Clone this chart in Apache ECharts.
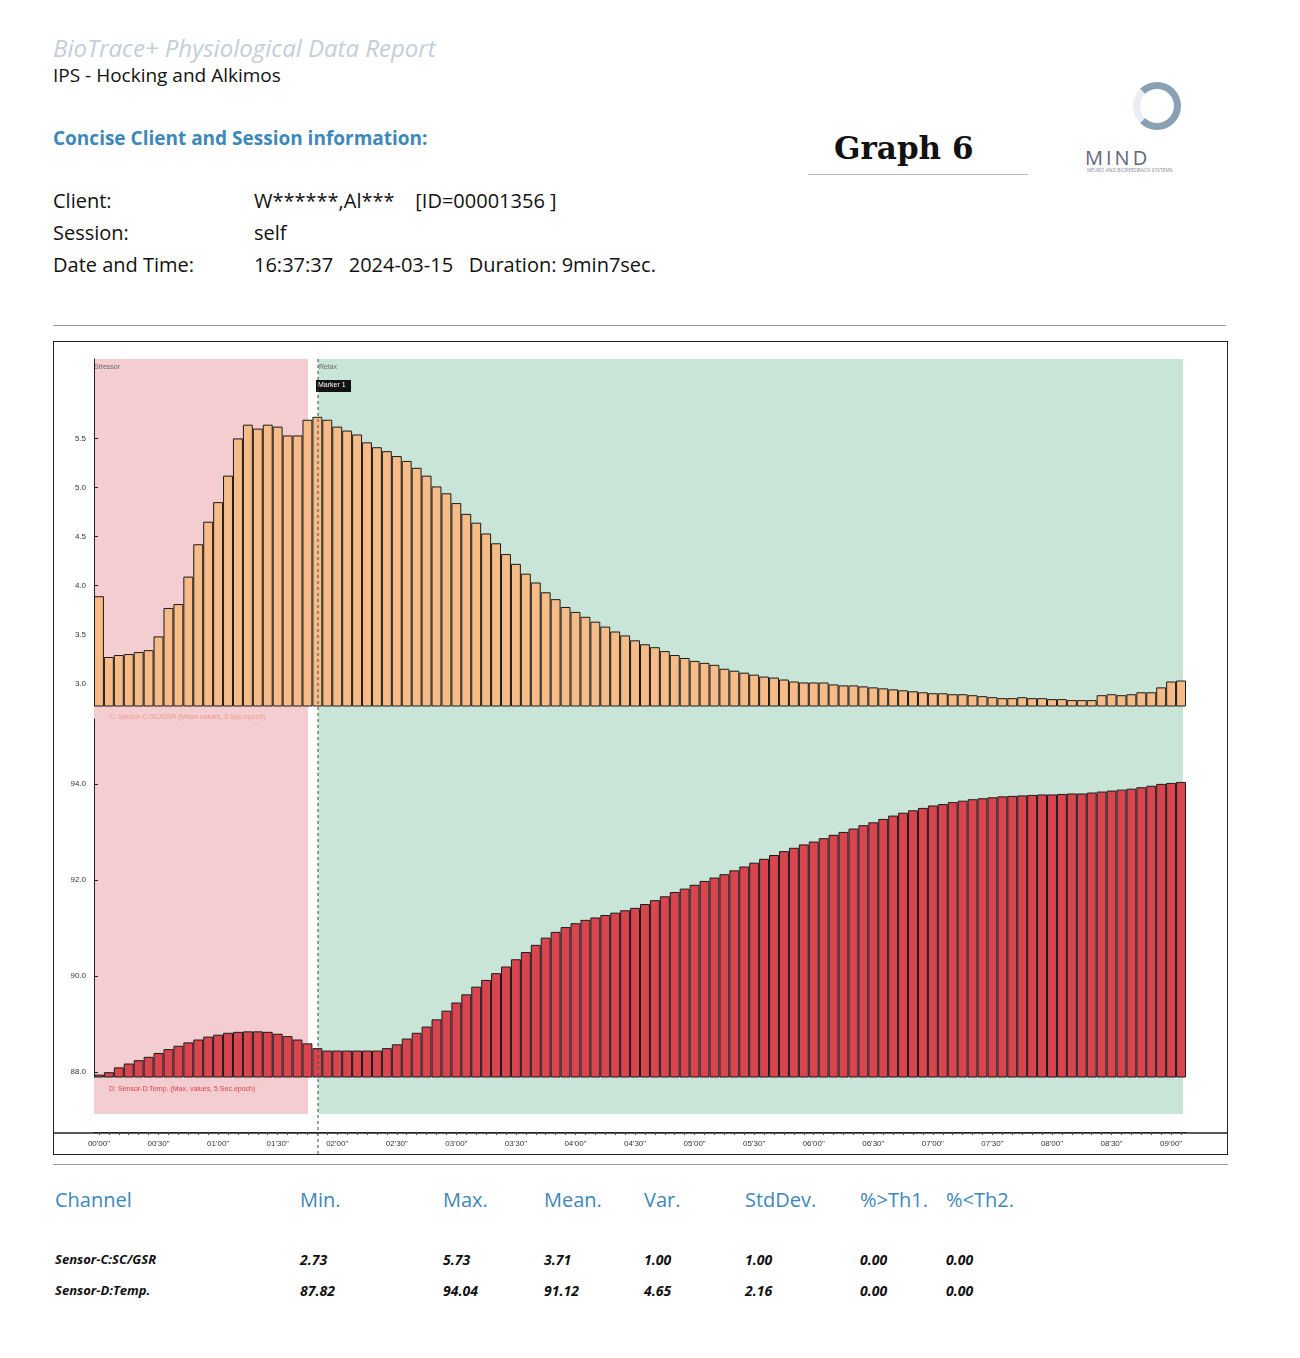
<!DOCTYPE html>
<html><head><meta charset="utf-8">
<script src="https://cdn.jsdelivr.net/npm/echarts@6/dist/echarts.min.js"></script>
<style>
body{margin:0;background:#fff;font-family:"Open Sans","Noto Sans",sans-serif;width:1300px;height:1358px;position:relative;overflow:hidden}
.t{position:absolute;white-space:nowrap;color:#111}
#chart{position:absolute;left:53px;top:341px;width:1175px;height:814px;border:1.5px solid #222;box-sizing:border-box}
.hl{position:absolute;height:1px;background:#999}
.th{position:absolute;top:1186px;color:#3d88b9;font-size:20px}
.td{position:absolute;font-size:14px;font-style:italic;font-weight:bold;color:#111}
</style></head><body>
<div class="t" style="left:53px;top:31px;font-size:24px;font-style:italic;color:#c5cdd8">BioTrace+ Physiological Data Report</div>
<div class="t" style="left:53px;top:62px;font-size:19px">IPS - Hocking and Alkimos</div>
<div class="t" style="left:53px;top:125px;font-size:19px;font-weight:bold;color:#3d88b9">Concise Client and Session information:</div>
<div class="t" style="left:834px;top:130px;font-size:31px;font-weight:bold;font-family:'DejaVu Serif',serif">Graph 6</div>
<div class="hl" style="left:808px;top:174px;width:220px;background:#bbb"></div>
<div class="t" style="left:1133px;top:82px;width:48px;height:48px;border-radius:50%;border:7px solid #8aa0b4;border-left-color:#e8eef3;box-sizing:border-box"></div>
<div class="t" style="left:1085px;top:144px;font-size:20px;letter-spacing:3px;color:#667">MIND</div>
<div class="t" style="left:1087px;top:167px;font-size:5px;color:#889">NEURO AND BIOFEEDBACK SYSTEMS</div>
<div class="t" style="left:53px;top:187px;font-size:20px">Client:</div>
<div class="t" style="left:53px;top:219px;font-size:20px">Session:</div>
<div class="t" style="left:53px;top:251px;font-size:20px">Date and Time:</div>
<div class="t" style="left:254px;top:187px;font-size:20px">W******,Al***&nbsp;&nbsp;&nbsp;&nbsp;[ID=00001356 ]</div>
<div class="t" style="left:254px;top:219px;font-size:20px">self</div>
<div class="t" style="left:254px;top:251px;font-size:20px">16:37:37&nbsp;&nbsp;&nbsp;2024-03-15&nbsp;&nbsp;&nbsp;Duration: 9min7sec.</div>
<div class="hl" style="left:53px;top:325px;width:1173px"></div>
<div id="chart"></div>
<div class="hl" style="left:53px;top:1164px;width:1175px"></div>
<div class="th" style="left:55px">Channel</div>
<div class="th" style="left:300px">Min.</div>
<div class="th" style="left:443px">Max.</div>
<div class="th" style="left:544px">Mean.</div>
<div class="th" style="left:644px">Var.</div>
<div class="th" style="left:745px">StdDev.</div>
<div class="th" style="left:860px">%&gt;Th1.</div>
<div class="th" style="left:946px">%&lt;Th2.</div>
<div id="rows"></div>
<script>
const gsr=[3.89,3.27,3.29,3.30,3.32,3.34,3.48,3.77,3.81,4.09,4.42,4.65,4.85,5.12,5.50,5.64,5.60,5.64,5.62,5.53,5.53,5.69,5.72,5.69,5.62,5.58,5.54,5.46,5.41,5.37,5.32,5.27,5.20,5.12,
5.01,4.94,4.84,4.73,4.64,4.53,4.43,4.32,4.22,4.12,4.03,3.93,3.86,3.78,3.73,3.68,3.63,3.58,3.53,3.49,3.44,3.40,3.37,3.33,3.29,3.26,3.23,3.21,3.19,3.15,3.13,3.11,3.09,3.07,3.06,3.04,3.02,3.01,3.01,3.01,2.99,2.98,2.98,2.97,2.96,2.95,2.94,2.93,2.92,2.91,2.90,2.90,2.89,2.89,2.88,2.87,2.86,2.85,2.85,2.86,2.85,2.85,2.84,2.84,2.83,2.83,2.83,2.88,2.89,2.88,2.89,2.91,2.91,2.96,3.02,3.03];
const temp=[87.95,88.0,88.1,88.18,88.25,88.32,88.4,88.48,88.55,88.62,88.68,88.74,88.78,88.82,88.84,88.85,88.85,88.84,88.8,88.75,88.68,88.6,88.5,88.45,88.45,88.45,88.45,88.45,88.45,88.5,88.58,88.7,88.82,88.95,89.1,89.28,89.45,89.62,89.78,89.92,90.06,90.2,90.35,90.5,90.65,90.8,90.92,91.02,91.1,91.17,91.22,91.27,91.32,91.37,91.42,91.5,91.58,91.66,91.75,91.82,91.9,91.98,92.05,92.12,92.2,92.28,92.36,92.44,92.52,92.6,92.67,92.74,92.8,92.87,92.94,93.0,93.07,93.14,93.2,93.27,93.34,93.4,93.45,93.5,93.55,93.58,93.62,93.65,93.68,93.7,93.72,93.74,93.75,93.76,93.77,93.78,93.78,93.79,93.8,93.8,93.82,93.84,93.86,93.88,93.9,93.93,93.96,94.0,94.02,94.04];
const epochs=gsr.map((_,i)=>i);
const gsrTicks=[3.0,3.5,4.0,4.5,5.0,5.5];
const tempTicks=[88.0,90.0,92.0,94.0];
const statChannels=['Sensor-C:SC/GSR','Sensor-D:Temp.'];
const statMin=['2.73','87.82'],statMax=['5.73','94.04'],statMean=['3.71','91.12'],statVar=['1.00','4.65'],statStd=['1.00','2.16'],statTh1=['0.00','0.00'],statTh2=['0.00','0.00'];
const cols=[[55,statChannels],[300,statMin],[443,statMax],[544,statMean],[644,statVar],[745,statStd],[860,statTh1],[946,statTh2]];
let h='';[1250,1281].forEach((y,r)=>cols.forEach(([x,a])=>{h+=`<div class="td" style="left:${x}px;top:${y}px;${x===55?'font-size:13px':''}">${a[r]}</div>`;}));
document.getElementById('rows').innerHTML=h;
function fmt(i){const s=i*5;const m=Math.floor(s/60),sec=s%60;return String(m).padStart(2,'0')+"'"+String(sec).padStart(2,'0')+'"';}
const c=echarts.init(document.getElementById('chart'));
const lab={fontSize:8,color:'#333',fontFamily:'Liberation Sans'};
c.setOption({animation:false,
grid:[{left:40,width:1092,top:17,height:347},{left:40,width:1092,top:377,height:358}],
graphic:[
{type:'rect',shape:{x:40,y:17,width:214,height:755},style:{fill:'#f3cdd0'},z:-10},
{type:'rect',shape:{x:264,y:17,width:865,height:755},style:{fill:'#c9e5d7'},z:-10},
{type:'line',shape:{x1:264,y1:17,x2:264,y2:814},style:{stroke:'#444',lineDash:[3,3],lineWidth:1},z:100},
{type:'text',x:40,y:22,style:{text:'Stressor',fontSize:7,fill:'#666'}},
{type:'text',x:265,y:22,style:{text:'Relax',fontSize:7,fill:'#666'}},
{type:'rect',shape:{x:262,y:38,width:35,height:12},style:{fill:'#111'},z:50},
{type:'text',x:264,y:40,style:{text:'Marker 1',fontSize:7,fill:'#fff'},z:51},
{type:'text',x:55,y:372,style:{text:'C: Sensor-C:SC/GSR (Mean values, 5 Sec.epoch)',fontSize:7,fill:'#f09a8a'}},
{type:'text',x:55,y:744,style:{text:'D: Sensor-D:Temp. (Max. values, 5 Sec.epoch)',fontSize:7,fill:'#e04050'}},
{type:'line',shape:{x1:0,y1:791,x2:1175,y2:791},style:{stroke:'#222',lineWidth:1.5}}
],
xAxis:[
{gridIndex:0,type:'category',data:epochs,axisLine:{show:false},axisTick:{show:false},axisLabel:{show:false}},
{gridIndex:1,type:'category',data:epochs,axisLine:{show:false},axisTick:{show:false},axisLabel:{show:false}},
{gridIndex:1,type:'category',data:epochs,position:'bottom',offset:55,axisLine:{show:true,lineStyle:{color:'#222'}},
 axisTick:{show:true,interval:0,length:3,alignWithLabel:true,lineStyle:{color:'#444'}},
 axisLabel:{interval:5,formatter:v=>fmt(+v),...lab,margin:8}}
],
yAxis:[
{gridIndex:0,type:'value',min:2.77,max:6.31,splitLine:{show:false},axisLine:{show:true,lineStyle:{color:'#222'}},
 axisTick:{show:true,customValues:gsrTicks,length:4,inside:true},axisLabel:{customValues:gsrTicks,formatter:v=>v.toFixed(1),...lab}},
{gridIndex:1,type:'value',min:87.9,max:95.35,splitLine:{show:false},axisLine:{show:true,lineStyle:{color:'#222'}},
 axisTick:{show:true,customValues:tempTicks,length:4,inside:true},axisLabel:{customValues:tempTicks,formatter:v=>v.toFixed(1),...lab}}
],
series:[
{type:'bar',xAxisIndex:0,yAxisIndex:0,data:gsr,barCategoryGap:'0%',itemStyle:{color:'#f6bb86',borderColor:'#1a1a1a',borderWidth:1}},
{type:'bar',xAxisIndex:1,yAxisIndex:1,data:temp,barCategoryGap:'0%',itemStyle:{color:'#d9454f',borderColor:'#1a1a1a',borderWidth:1}}
]});
</script></body></html>
